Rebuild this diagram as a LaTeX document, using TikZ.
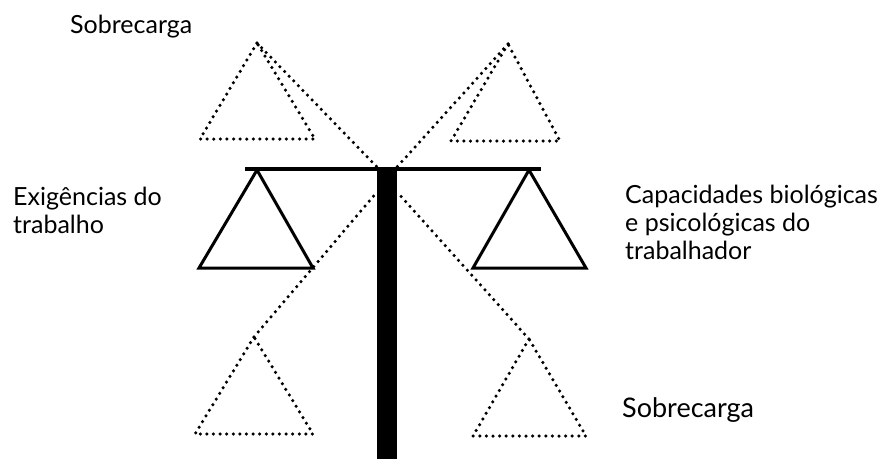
\documentclass[tikz,border=0pt]{standalone}
\usepackage{fontspec}
\setmainfont{Lato}
\usepackage{tikz}

\begin{document}
\begin{tikzpicture}[
        x=1pt, y=-1pt,
        font=\fontsize{25}{28}\selectfont,
        pan/.style={draw, line width=3pt, line join=miter},
        dotline/.style={line width=3.5pt, dash pattern=on 0pt off 6.6pt, line cap=round},
        lbl/.style={anchor=base west, align=left, inner sep=0pt}
    ]
        \useasboundingbox (0,0) rectangle (883,459);
        % post and beam
        \fill (377,167) rectangle (397,459);
        \coordinate (postTL) at (377,167);
        \coordinate (postTR) at (397,167);
        \coordinate (postML) at (377,192);
        \coordinate (postMR) at (397,192);
        \draw[line width=3.4pt] (245,169) -- (541,169);
        % pans in balance
        \coordinate (lA) at (257,170);
        \coordinate (rA) at (529,170);
        \draw[pan] (lA) -- (199,268) -- (313,268) -- cycle;
        \draw[pan] (rA) -- (473,268) -- (586,268) -- cycle;
        % tilted positions
        \coordinate (ulA) at (257,43);
        \coordinate (urA) at (508,44);
        \coordinate (llA) at (254,337);
        \coordinate (lrA) at (529,339);
        \draw[dotline] (ulA) -- (200,139) -- (315,139) -- cycle;
        \draw[dotline] (urA) -- (451,141) -- (560,141) -- cycle;
        \draw[dotline] (llA) -- (195,434) -- (313,434) -- cycle;
        \draw[dotline] (lrA) -- (473,436) -- (586,436) -- cycle;
        \draw[dotline] (ulA) -- (postTL);
        \draw[dotline] (urA) -- (postTR);
        \draw[dotline] (llA) -- (postML);
        \draw[dotline] (lrA) -- (postMR);
        % labels
        \node[lbl] (top) at (70,33) {Sobrecarga};
        \node[lbl] (dem) at (13,233) {Exigências do\\trabalho};
        \node[lbl] (cap) at (625,259) {Capacidades biológicas\\e psicológicas do\\trabalhador};
        \node[lbl, font=\fontsize{27}{28}\selectfont] (bot) at (622,417) {Sobrecarga};
\end{tikzpicture}
\end{document}
